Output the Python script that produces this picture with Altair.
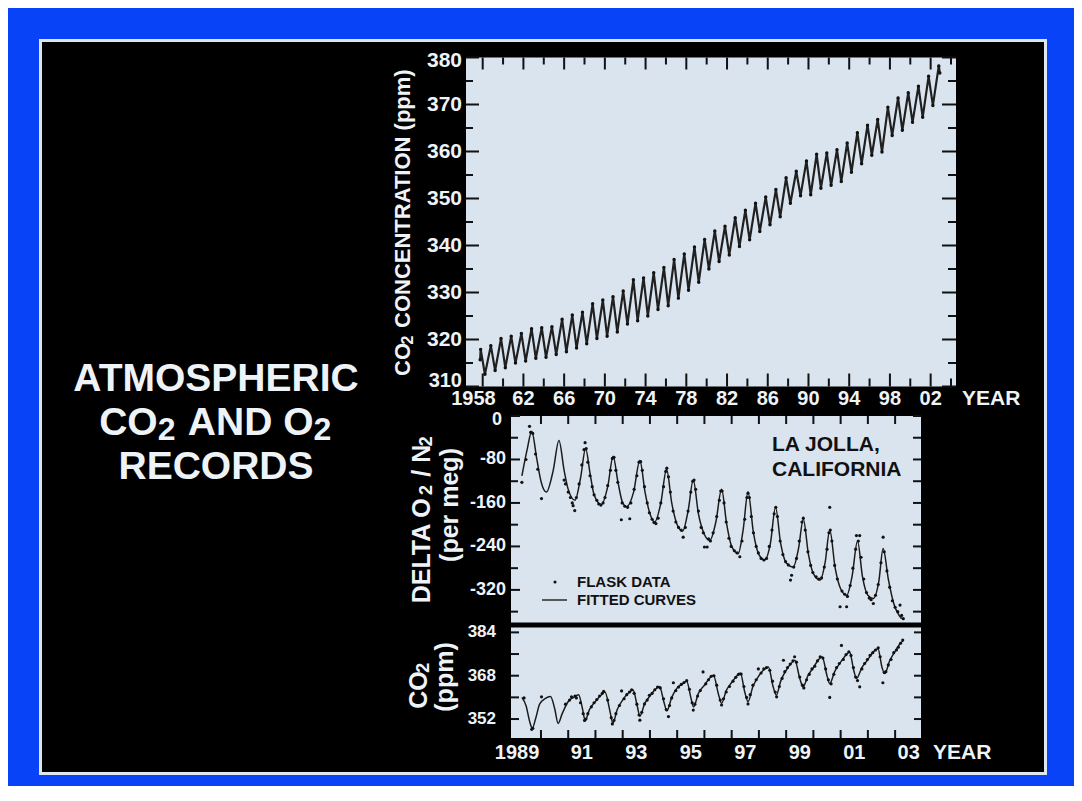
import altair as alt
import pandas as pd

# ---------------- data ----------------
# Top panel: monthly CO2 record, seasonal maxima / minima per year
ml_years = list(range(1958, 2004))
ml_peaks = [317.9, 318.7, 320.2, 320.7, 321.3, 322.3, 322.5, 322.7, 324.3, 325.2,
            325.8, 327.6, 328.4, 329.1, 330.3, 332.7, 333.1, 334.2, 335.3, 337.0,
            338.2, 339.7, 341.3, 343.1, 344.1, 345.9, 347.5, 349.0, 350.3, 351.9,
            354.4, 355.8, 358.0, 359.4, 359.7, 360.4, 361.8, 364.0, 365.6, 366.8,
            369.4, 371.4, 372.5, 373.9, 376.0, 378.2]
ml_troughs = [312.6, 313.4, 314.0, 315.0, 315.4, 316.0, 316.2, 316.8, 317.4, 318.2,
              319.1, 320.2, 320.7, 321.6, 323.3, 324.0, 325.0, 326.4, 327.2, 328.8,
              330.5, 332.2, 335.0, 336.6, 338.0, 339.8, 341.2, 343.0, 344.4, 346.1,
              349.0, 350.6, 350.8, 352.2, 352.8, 353.6, 355.6, 357.4, 359.2, 359.9,
              363.4, 364.5, 366.2, 367.3, 369.8]
ml_start = 315.7
ml_end = 376.7

# Bottom panel: O2/N2 fitted curve
o2_fit_t = [1989.30, 1989.50, 1989.66, 1989.85, 1990.00, 1990.20, 1990.45, 1990.66, 1990.85, 1991.00,
            1991.25, 1991.45, 1991.64, 1991.80, 1991.95, 1992.22, 1992.45, 1992.65, 1992.82, 1993.00,
            1993.14, 1993.40, 1993.63, 1993.82, 1994.00, 1994.18, 1994.40, 1994.61, 1994.80, 1995.00,
            1995.20, 1995.40, 1995.59, 1995.78, 1996.00, 1996.20, 1996.42, 1996.63, 1996.82, 1997.00,
            1997.24, 1997.42, 1997.60, 1997.80, 1998.00, 1998.22, 1998.42, 1998.61, 1998.80, 1999.00,
            1999.26, 1999.45, 1999.63, 1999.82, 2000.00, 2000.25, 2000.43, 2000.60, 2000.80, 2001.00,
            2001.22, 2001.42, 2001.62, 2001.80, 2002.00, 2002.20, 2002.40, 2002.56, 2002.75, 2002.95,
            2003.24]
o2_fit_v = [-110, -60, -28, -80, -120, -140, -100, -45, -100, -135,
            -155, -115, -60, -105, -145, -163, -130, -74, -120, -160,
            -167, -140, -82, -140, -180, -195, -160, -98, -160, -200,
            -212, -175, -118, -180, -218, -229, -195, -135, -200, -240,
            -253, -210, -140, -215, -255, -265, -235, -168, -235, -270,
            -278, -245, -190, -255, -290, -302, -270, -210, -280, -318,
            -330, -295, -230, -295, -330, -336, -305, -244, -300, -345,
            -373]
# O2/N2 flask samples
o2_flask_t = [1989.30, 1989.45, 1989.58, 1989.62, 1989.70, 1989.80, 1989.88, 1990.02, 1990.85, 1990.90,
              1991.00, 1991.08, 1991.15, 1991.18, 1991.24, 1991.30, 1991.40, 1991.50, 1991.58, 1991.62,
              1991.66, 1991.72, 1991.80, 1991.88, 1991.95, 1992.05, 1992.12, 1992.20, 1992.28, 1992.35,
              1992.45, 1992.55, 1992.62, 1992.68, 1992.75, 1992.82, 1992.95, 1992.98, 1993.08, 1993.18,
              1993.26, 1993.30, 1993.42, 1993.52, 1993.60, 1993.66, 1993.72, 1993.80, 1993.90, 1993.98,
              1994.08, 1994.15, 1994.22, 1994.30, 1994.40, 1994.50, 1994.58, 1994.62, 1994.68, 1994.75,
              1994.85, 1994.95, 1995.05, 1995.15, 1995.22, 1995.30, 1995.40, 1995.50, 1995.57, 1995.62,
              1995.68, 1995.78, 1995.88, 1995.96, 1996.00, 1996.10, 1996.15, 1996.22, 1996.32, 1996.45,
              1996.55, 1996.60, 1996.65, 1996.72, 1996.80, 1996.90, 1996.98, 1997.10, 1997.20, 1997.30,
              1997.38, 1997.48, 1997.56, 1997.60, 1997.65, 1997.72, 1997.80, 1997.90, 1997.98, 1998.08,
              1998.18, 1998.28, 1998.38, 1998.48, 1998.56, 1998.62, 1998.68, 1998.78, 1998.88, 1998.98,
              1999.08, 1999.16, 1999.20, 1999.28, 1999.38, 1999.48, 1999.58, 1999.63, 1999.70, 1999.80,
              1999.90, 1999.98, 2000.10, 2000.20, 2000.30, 2000.40, 2000.50, 2000.57, 2000.60, 2000.62,
              2000.68, 2000.78, 2000.88, 2000.98, 2001.05, 2001.15, 2001.22, 2001.25, 2001.35, 2001.45,
              2001.55, 2001.58, 2001.65, 2001.70, 2001.75, 2001.85, 2001.95, 2002.05, 2002.12, 2002.20,
              2002.28, 2002.38, 2002.48, 2002.56, 2002.60, 2002.70, 2002.80, 2002.90, 2003.00, 2003.10,
              2003.18, 2003.24, 2003.30]
o2_flask_v = [-122, -80, -19, -30, -32, -70, -98, -152, -118, -125,
              -140, -150, -160, -165, -174, -150, -125, -90, -62, -49,
              -60, -85, -110, -130, -145, -155, -162, -164, -160, -150,
              -128, -100, -78, -76, -100, -122, -191, -160, -166, -168,
              -189, -160, -135, -110, -85, -84, -100, -130, -160, -178,
              -190, -196, -198, -188, -160, -130, -102, -96, -112, -140,
              -175, -195, -205, -210, -223, -205, -175, -140, -120, -118,
              -135, -175, -205, -215, -241, -241, -226, -230, -215, -185,
              -155, -138, -138, -160, -195, -225, -240, -248, -252, -259,
              -230, -190, -150, -142, -150, -185, -215, -240, -252, -262,
              -265, -262, -240, -210, -180, -168, -185, -230, -255, -268,
              -274, -302, -293, -278, -262, -230, -195, -188, -210, -250,
              -275, -288, -296, -300, -298, -278, -245, -215, -168, -210,
              -230, -275, -300, -351, -322, -328, -351, -332, -312, -280,
              -245, -220, -230, -220, -260, -300, -325, -335, -338, -345,
              -330, -310, -270, -223, -250, -285, -315, -340, -352, -360,
              -348, -367, -373]

# Bottom panel: La Jolla CO2 fitted curve
lj_fit_t = [1989.30, 1989.45, 1989.60, 1989.68, 1989.80, 1989.95, 1990.15, 1990.35, 1990.50, 1990.63,
            1990.78, 1991.00, 1991.20, 1991.38, 1991.52, 1991.62, 1991.78, 1992.00, 1992.20, 1992.35,
            1992.52, 1992.64, 1992.80, 1993.00, 1993.20, 1993.38, 1993.53, 1993.63, 1993.80, 1994.00,
            1994.20, 1994.35, 1994.52, 1994.62, 1994.80, 1995.00, 1995.20, 1995.35, 1995.50, 1995.60,
            1995.78, 1996.00, 1996.18, 1996.33, 1996.52, 1996.63, 1996.80, 1997.00, 1997.18, 1997.32,
            1997.48, 1997.60, 1997.78, 1998.00, 1998.18, 1998.35, 1998.52, 1998.64, 1998.80, 1999.00,
            1999.18, 1999.32, 1999.50, 1999.62, 1999.80, 2000.00, 2000.18, 2000.32, 2000.50, 2000.60,
            2000.78, 2001.00, 2001.18, 2001.33, 2001.48, 2001.58, 2001.78, 2002.00, 2002.20, 2002.37,
            2002.52, 2002.62, 2002.80, 2003.00, 2003.18, 2003.30]
lj_fit_v = [360.0, 357.0, 350.5, 348.6, 352.0, 357.5, 359.5, 360.3, 356.0, 350.4,
            354.0, 358.5, 360.0, 361.0, 356.0, 351.5, 355.5, 358.5, 360.8, 362.0,
            355.5, 350.5, 355.5, 359.0, 361.5, 362.7, 357.0, 353.0, 357.5, 360.5,
            363.0, 364.0, 358.0, 355.0, 360.0, 363.5, 365.0, 366.0, 360.0, 356.5,
            361.5, 364.5, 367.0, 368.2, 361.0, 357.8, 362.5, 365.5, 367.8, 369.0,
            362.0, 358.4, 364.0, 368.0, 370.2, 371.2, 364.0, 360.8, 366.0, 370.0,
            372.5, 373.7, 367.0, 363.9, 368.0, 371.0, 373.8, 375.0, 368.0, 365.1,
            369.5, 373.0, 375.5, 376.8, 370.0, 367.0, 371.0, 374.0, 376.8, 378.0,
            371.0, 368.8, 373.5, 377.0, 379.8, 381.0]
# La Jolla CO2 flask samples
lj_flask_t = [1989.38, 1989.66, 1989.70, 1990.02, 1990.90,
              1991.05, 1991.12, 1991.25, 1991.30, 1991.45, 1991.55, 1991.60, 1991.65, 1991.72, 1991.85, 1991.95,
              1992.05, 1992.15, 1992.25, 1992.30, 1992.45, 1992.58, 1992.62, 1992.68, 1992.75, 1992.88, 1992.96,
              1993.05, 1993.15, 1993.25, 1993.33, 1993.42, 1993.52, 1993.60, 1993.63, 1993.70, 1993.80, 1993.90, 1993.98,
              1994.08, 1994.18, 1994.28, 1994.38, 1994.50, 1994.60, 1994.68, 1994.72, 1994.80, 1994.86, 1994.95,
              1995.05, 1995.15, 1995.25, 1995.35, 1995.45, 1995.55, 1995.59, 1995.65, 1995.75, 1995.85, 1995.95,
              1996.05, 1996.15, 1996.25, 1996.35, 1996.45, 1996.58, 1996.63, 1996.70, 1996.80, 1996.92,
              1997.05, 1997.15, 1997.25, 1997.35, 1997.45, 1997.55, 1997.60, 1997.68, 1997.78, 1997.90, 1997.98,
              1998.08, 1998.18, 1998.28, 1998.40, 1998.50, 1998.60, 1998.65, 1998.75, 1998.85, 1998.90, 1998.95,
              1999.05, 1999.15, 1999.25, 1999.31, 1999.38, 1999.50, 1999.60, 1999.65, 1999.75, 1999.85, 1999.95,
              2000.05, 2000.15, 2000.25, 2000.35, 2000.45, 2000.55, 2000.60, 2000.65, 2000.75, 2000.85, 2000.95,
              2001.03, 2001.10, 2001.20, 2001.30, 2001.38, 2001.47, 2001.55, 2001.62, 2001.70, 2001.78, 2001.88, 2001.98,
              2002.08, 2002.18, 2002.28, 2002.38, 2002.45, 2002.55, 2002.60, 2002.66, 2002.75, 2002.85, 2002.95,
              2003.05, 2003.12, 2003.20, 2003.28]
lj_flask_v = [359.8, 348.2, 348.6, 360.2, 357.5,
              359.0, 360.2, 360.5, 359.8, 358.0, 354.0, 351.5, 352.0, 354.0, 356.5, 358.0,
              359.2, 360.5, 361.5, 362.2, 359.0, 352.5, 350.2, 351.5, 354.0, 357.0, 362.4,
              359.5, 361.0, 362.0, 362.8, 361.5, 357.5, 353.5, 351.6, 354.5, 357.6, 359.0, 360.8,
              361.5, 362.8, 363.8, 363.5, 359.5, 355.5, 352.9, 357.0, 359.8, 365.4, 362.5,
              363.8, 364.8, 365.5, 366.2, 363.0, 358.0, 355.3, 357.5, 360.5, 362.5, 369.4,
              365.0, 366.5, 367.8, 368.0, 364.5, 359.0, 357.2, 359.5, 362.0, 364.0,
              366.0, 367.4, 368.5, 368.6, 364.0, 360.0, 357.6, 361.0, 364.5, 366.5, 370.5,
              369.0, 370.5, 371.0, 370.0, 366.0, 362.0, 360.2, 364.0, 367.0, 373.7, 369.5,
              371.0, 372.3, 373.5, 375.0, 373.0, 367.5, 364.5, 363.5, 366.5, 368.5, 370.5,
              371.5, 373.5, 375.0, 374.5, 370.5, 366.5, 360.0, 365.0, 368.5, 371.0, 372.5,
              379.2, 374.0, 375.8, 376.8, 375.5, 371.0, 367.5, 366.2, 363.9, 370.5, 372.5, 374.0,
              375.5, 376.5, 377.5, 378.3, 375.0, 365.4, 369.2, 369.5, 372.0, 374.0, 376.5,
              377.5, 378.5, 380.0, 381.2]

# Axis ticks and labels
top_xtick_major = list(range(1958, 2003, 4))
top_xtick_minor = list(range(1960, 2005, 4))
top_xlabel_vals = list(range(1962, 2003, 4))
top_xlabel_text = ["62", "66", "70", "74", "78", "82", "86", "90", "94", "98", "02"]
top_ytick_major = list(range(310, 381, 10))
top_ytick_minor = list(range(315, 380, 10))
top_ylabel_vals = list(range(320, 371, 10))

bot_xtick_vals = list(range(1990, 2004))
bot_xlabel_vals = [1991.5, 1993.5, 1995.5, 1997.5, 1999.5, 2001.5, 2003.5]
bot_xlabel_text = ["91", "93", "95", "97", "99", "01", "03"]
o2_tick_major = [0, -80, -160, -240, -320]
o2_tick_minor = [-40, -120, -200, -280, -360]
o2_label_vals = [-80, -160, -240, -320]
lj_tick_major = [352, 368, 384]
lj_tick_minor = [360, 376]

# ---------------- layout helpers ----------------
M = 8  # page margin


def px(v):
    return v - M


FONT = "Liberation Sans"
WHITE = "#eef3f8"
INK = "#111111"
PANEL = "#dae4ef"
BLUE = "#0843f7"

TX_DOM = [1956.36, 2004.49]
TY_DOM = [310, 380]
BX_DOM = [1988.9, 2003.95]
OY_DOM = [-380, 0]
CY_DOM = [345.0, 385.8]

TX = alt.Scale(domain=TX_DOM, range=[px(466), px(956)], nice=False, zero=False)
TY = alt.Scale(domain=TY_DOM, range=[px(386.5), px(57.5)], nice=False, zero=False)
BX = alt.Scale(domain=BX_DOM, range=[px(511), px(921)], nice=False, zero=False)
OY = alt.Scale(domain=OY_DOM, range=[px(622.5), px(416)], nice=False, zero=False)
CY = alt.Scale(domain=CY_DOM, range=[px(738), px(627.5)], nice=False, zero=False)

ONE = pd.DataFrame({"a": [0]})

# Arial/Liberation Sans Bold advance widths (1/1000 em)
AW = {" ": 278, "(": 333, ")": 333, "/": 278, ",": 278, "-": 333, "2": 556,
      "A": 722, "C": 722, "D": 722, "E": 667, "I": 278, "L": 611, "N": 722,
      "O": 778, "R": 722, "T": 611, "e": 556, "g": 611, "m": 889, "p": 611, "r": 389}


def tw(s, f):
    return sum(AW.get(c, 600) for c in s) * f / 1000.0


layers = []


def panel_bg(xs, ys, xd, yd):
    df = pd.DataFrame({"x0": [xd[0]], "x1": [xd[1]], "y0": [yd[0]], "y1": [yd[1]]})
    return alt.Chart(df).mark_rect(color=PANEL).encode(
        x=alt.X("x0:Q", scale=xs, axis=None), x2="x1:Q",
        y=alt.Y("y0:Q", scale=ys, axis=None), y2="y1:Q")


def xticks(vals, xs, y0, length):
    df = pd.DataFrame({"t": vals})
    return alt.Chart(df).mark_rule(color=INK, strokeWidth=2).encode(
        x=alt.X("t:Q", scale=xs, axis=None),
        y=alt.value(px(y0)), y2=alt.value(px(y0 + length)))


def yticks(vals, ys, x0, length):
    df = pd.DataFrame({"v": vals})
    return alt.Chart(df).mark_rule(color=INK, strokeWidth=2).encode(
        y=alt.Y("v:Q", scale=ys, axis=None),
        x=alt.value(px(x0)), x2=alt.value(px(x0 + length)))


def xlabels(vals, texts, xs, yc, size, align="center", dx=0):
    df = pd.DataFrame({"t": vals, "s": texts})
    return alt.Chart(df).mark_text(font=FONT, fontWeight="bold", fontSize=size, color=WHITE,
                                   align=align, baseline="middle", dx=dx).encode(
        x=alt.X("t:Q", scale=xs, axis=None), y=alt.value(px(yc)), text="s:N")


def ylabels(vals, ys, xr, size, dy=0):
    df = pd.DataFrame({"v": vals, "s": [str(v) for v in vals]})
    return alt.Chart(df).mark_text(font=FONT, fontWeight="bold", fontSize=size, color=WHITE,
                                   align="right", baseline="middle", dy=dy).encode(
        y=alt.Y("v:Q", scale=ys, axis=None), x=alt.value(px(xr)), text="s:N")


def free_text(s, x, y, size, color=WHITE, align="left", angle=0, weight="bold"):
    kw = dict(font=FONT, fontWeight=weight, fontSize=size, color=color,
              align=align, baseline="middle")
    if angle:
        kw["angle"] = angle
    return alt.Chart(ONE).mark_text(**kw).encode(
        x=alt.value(px(x)), y=alt.value(px(y)), text=alt.value(s))


def split_lead(s):
    body = s.lstrip(" ")
    return " " * (len(s) - len(body)), body


def vertical_title(pieces, xc, ybottom):
    """pieces: list of (text, fontsize, is_subscript); reads bottom-to-top."""
    out = []
    y = ybottom
    for s, f, sub in pieces:
        lead, body = split_lead(s)
        y -= tw(lead, f)
        out.append(free_text(body, xc + (5 if sub else 0), y + (1.5 if sub else 0), f, angle=270))
        y -= tw(body, f)
    return out


def vertical_title_centered(pieces, xc, ycenter):
    total = sum(tw(s, f) for s, f, _ in pieces)
    return vertical_title(pieces, xc, ycenter + total / 2)


# ---------------- frame ----------------
layers.append(alt.Chart(ONE).mark_rect(fill="black", stroke="#dce7f1", strokeWidth=3).encode(
    x=alt.value(px(40.5)), x2=alt.value(px(1045.5)), y=alt.value(px(40.5)), y2=alt.value(px(773.5))))

# ---------------- main title ----------------
TF = 39
layers.append(free_text("ATMOSPHERIC", 216, 379, TF, align="center"))
line2 = [("CO", TF, False), ("2", 32, True), (" AND O", TF, False), ("2", 32, True)]
GAP = 3
tot = sum(tw(s, f) for s, f, _ in line2) + GAP
xcur = 216 - tot / 2
for s, f, sub in line2:
    lead, body = split_lead(s)
    xcur += tw(lead, f)
    layers.append(free_text(body, xcur, 423 + (7 if sub else 0), f))
    xcur += tw(body, f) + (GAP / 2 if sub else 0)
layers.append(free_text("RECORDS", 216, 467, TF, align="center"))

# ---------------- top panel ----------------
layers.append(panel_bg(TX, TY, TX_DOM, TY_DOM))
rows = [(ml_years[0] - 0.25, ml_start)]
for i, yr in enumerate(ml_years):
    rows.append((yr - 0.2, ml_peaks[i]))
    if i < len(ml_troughs):
        rows.append((yr + 0.22, ml_troughs[i]))
rows.append((ml_years[-1] - 0.1, ml_end))
top_df = pd.DataFrame(rows, columns=["t", "v"])
layers.append(alt.Chart(top_df).mark_line(color="#202020", strokeWidth=2.2, strokeJoin="round").encode(
    x=alt.X("t:Q", scale=TX, axis=None), y=alt.Y("v:Q", scale=TY, axis=None), order="t:Q"))
layers.append(alt.Chart(top_df).mark_circle(color="#111", size=12, opacity=1).encode(
    x=alt.X("t:Q", scale=TX, axis=None), y=alt.Y("v:Q", scale=TY, axis=None)))

layers += [
    xticks(top_xtick_major, TX, 386.5, -13), xticks(top_xtick_minor, TX, 386.5, -8),
    xticks(top_xtick_major, TX, 57.5, 12), xticks(top_xtick_minor, TX, 57.5, 7),
    yticks(top_ytick_major, TY, 466, 13), yticks(top_ytick_minor, TY, 466, 7),
    yticks(top_ytick_major, TY, 956, -14), yticks(top_ytick_minor, TY, 956, -8),
    xlabels(top_xlabel_vals, top_xlabel_text, TX, 399, 20),
    xlabels([1958], ["1958"], TX, 399, 20, align="right", dx=13),
    ylabels(top_ylabel_vals, TY, 462, 21),
    ylabels([380], TY, 462, 21, dy=3),
    ylabels([310], TY, 462, 20, dy=-6),
    free_text("YEAR", 962, 399, 21),
]
layers += vertical_title([("CO", 22, False), ("2", 16, True), (" CONCENTRATION (ppm)", 22, False)],
                         403, 376)

# ---------------- O2 panel ----------------
layers.append(panel_bg(BX, OY, BX_DOM, OY_DOM))
o2fit = pd.DataFrame({"t": o2_fit_t, "v": o2_fit_v})
o2fl = pd.DataFrame({"t": o2_flask_t, "v": o2_flask_v})
layers.append(alt.Chart(o2fit).mark_line(color="#1c1c1c", strokeWidth=1.5, interpolate="monotone").encode(
    x=alt.X("t:Q", scale=BX, axis=None), y=alt.Y("v:Q", scale=OY, axis=None), order="t:Q"))
layers.append(alt.Chart(o2fl).mark_circle(color="#111", size=10, opacity=1).encode(
    x=alt.X("t:Q", scale=BX, axis=None), y=alt.Y("v:Q", scale=OY, axis=None)))
layers += [
    xticks(bot_xtick_vals, BX, 416, 8),
    yticks(o2_tick_major, OY, 511, 9), yticks(o2_tick_minor, OY, 511, 7),
    yticks(o2_tick_major + o2_tick_minor, OY, 921, -8),
    ylabels(o2_label_vals, OY, 506, 18),
    ylabels([0], OY, 502, 18, dy=4),
]
layers += vertical_title_centered([("DELTA O", 25, False), ("2", 18, True), (" / N", 25, False), ("2", 18, True)],
                                  422, 519)
layers += vertical_title_centered([("(per meg)", 25, False)], 450, 505)
# legend + station label
layers.append(free_text("LA JOLLA,", 772, 445, 21, color=INK))
layers.append(free_text("CALIFORNIA", 772, 470, 21, color=INK))
layers.append(alt.Chart(ONE).mark_circle(color="#111", size=10, opacity=1).encode(
    x=alt.value(px(555)), y=alt.value(px(582))))
layers.append(alt.Chart(ONE).mark_rule(color="#1c1c1c", strokeWidth=1.4).encode(
    x=alt.value(px(542)), x2=alt.value(px(567)), y=alt.value(px(600))))
layers.append(free_text("FLASK DATA", 577, 582, 15, color=INK))
layers.append(free_text("FITTED CURVES", 577, 600, 15, color=INK))

# ---------------- CO2 (La Jolla) panel ----------------
layers.append(panel_bg(BX, CY, BX_DOM, CY_DOM))
ljfit = pd.DataFrame({"t": lj_fit_t, "v": lj_fit_v})
ljfl = pd.DataFrame({"t": lj_flask_t, "v": lj_flask_v})
layers.append(alt.Chart(ljfit).mark_line(color="#1c1c1c", strokeWidth=1.5, interpolate="monotone").encode(
    x=alt.X("t:Q", scale=BX, axis=None), y=alt.Y("v:Q", scale=CY, axis=None), order="t:Q"))
layers.append(alt.Chart(ljfl).mark_circle(color="#111", size=10, opacity=1).encode(
    x=alt.X("t:Q", scale=BX, axis=None), y=alt.Y("v:Q", scale=CY, axis=None)))
layers += [
    xticks(bot_xtick_vals, BX, 738, -8),
    yticks(lj_tick_major + lj_tick_minor, CY, 511, 8),
    yticks(lj_tick_major + lj_tick_minor, CY, 921, -7),
    ylabels(lj_tick_major, CY, 496, 17),
    xlabels(bot_xlabel_vals, bot_xlabel_text, BX, 753, 20),
    xlabels([1989.5], ["1989"], BX, 753, 20, align="right", dx=12),
    free_text("YEAR", 933, 753, 21),
]
layers += vertical_title_centered([("CO", 25, False), ("2", 18, True)], 419, 685)
layers += vertical_title_centered([("(ppm)", 25, False)], 445, 677)

chart = alt.layer(*layers).resolve_scale(x="independent", y="independent").properties(
    width=1066, height=778, background=BLUE, padding=0,
    autosize=alt.AutoSizeParams(type="none"),
).configure_view(strokeWidth=0)

chart.save("out.html", embed_options={"renderer": "svg", "actions": False})
